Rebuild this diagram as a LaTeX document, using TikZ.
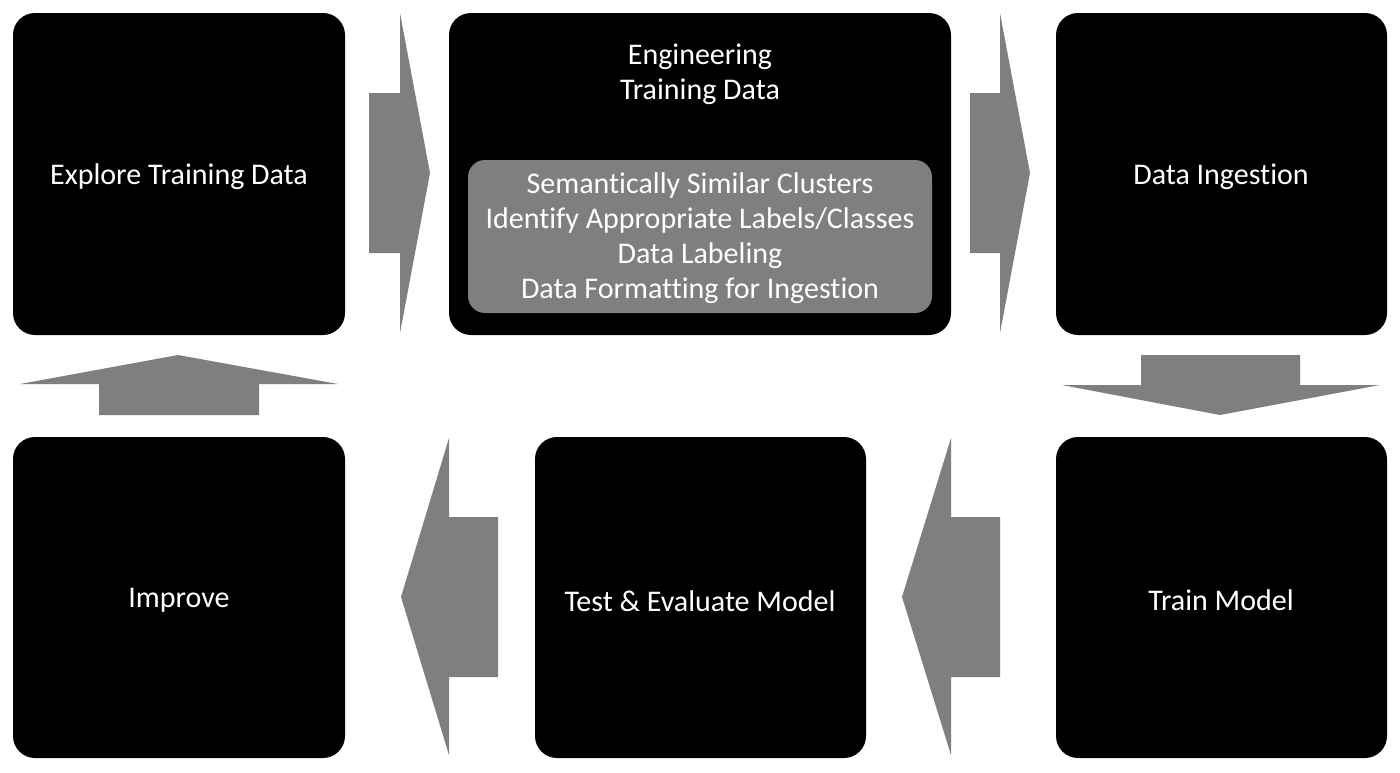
\documentclass[tikz,border=0pt]{standalone}
\usepackage{fontspec}
\setmainfont[Ligatures=NoCommon]{Carlito}
\begin{document}
\begin{tikzpicture}[x=1pt,y=-1pt,
  blk/.style={fill=black,rounded corners=22pt},
  inner/.style={fill=gray50,rounded corners=17pt},
  lbl/.style={text=white,align=center,font=\fontsize{30}{35}\selectfont},
  arr/.style={fill=gray50,draw=none}]
\definecolor{gray50}{HTML}{7F7F7F}
\useasboundingbox (0,0) rectangle (1400,772);
\fill[white] (0,0) rectangle (1400,772);
% boxes
\fill[blk] (13,13) rectangle (345,335);
\node[lbl] (explore) at (179,177) {Explore Training Data};
\fill[blk] (449,13) rectangle (951,335);
\node[lbl] (eng) at (700,74) {Engineering\\Training Data};
\fill[inner] (468,160) rectangle (932,313);
\node[lbl] (sub) at (700,238) {Semantically Similar Clusters\\Identify Appropriate Labels/Classes\\Data Labeling\\Data Formatting for Ingestion};
\fill[blk] (1056,13) rectangle (1387,335);
\node[lbl] (ingest) at (1221,177) {Data Ingestion};
\fill[blk] (13,437) rectangle (345,758);
\node[lbl] (improve) at (179,600) {Improve};
\fill[blk] (535,437) rectangle (866,758);
\node[lbl] (test) at (700,601) {Test \& Evaluate Model};
\fill[blk] (1056,437) rectangle (1387,758);
\node[lbl] (train) at (1221,600) {Train Model};
% arrows
\fill[arr] (369,93) -- (400,93) -- (400,13) -- (430,173) -- (400,333) -- (400,253) -- (369,253) -- cycle;
\fill[arr] (970,93) -- (1000,93) -- (1000,13) -- (1030,173) -- (1000,333) -- (1000,253) -- (970,253) -- cycle;
\fill[arr] (1141,355) -- (1300,355) -- (1300,385) -- (1380,385) -- (1220,415) -- (1062,385) -- (1141,385) -- cycle;
\fill[arr] (99,415) -- (259,415) -- (259,384) -- (338,384) -- (178,355) -- (20,384) -- (99,384) -- cycle;
\fill[arr] (498,517) -- (449,517) -- (449,438) -- (401,597) -- (449,755) -- (449,677) -- (498,677) -- cycle;
\fill[arr] (1000,517) -- (951,517) -- (951,438) -- (902,597) -- (951,755) -- (951,677) -- (1000,677) -- cycle;
\end{tikzpicture}
\end{document}
